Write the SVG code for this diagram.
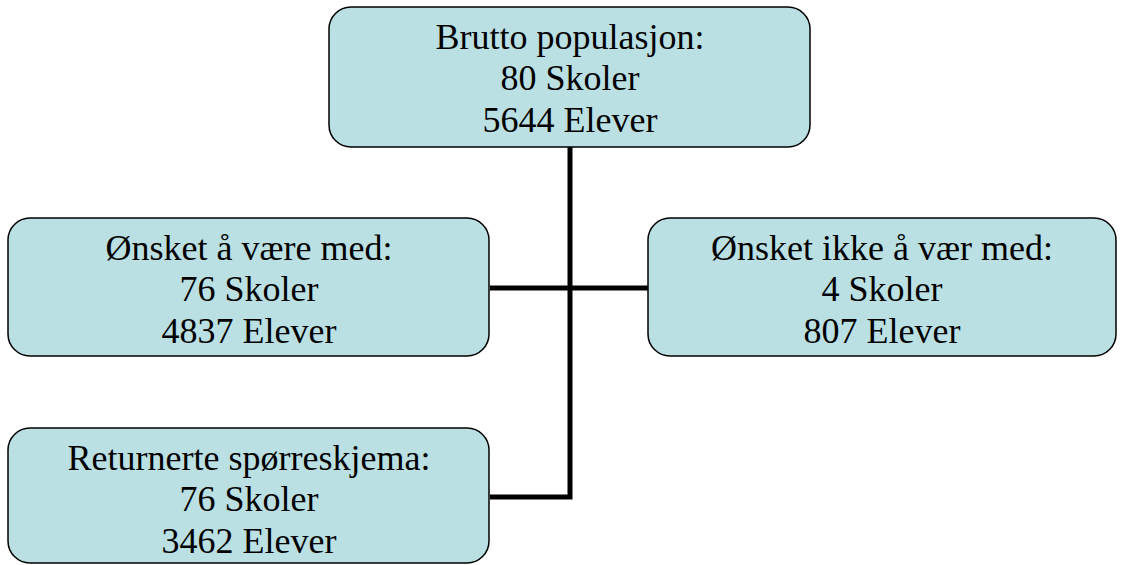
<svg xmlns="http://www.w3.org/2000/svg" width="1124" height="565" viewBox="0 0 1124 565">
<style>
.box{fill:#BBE0E3;stroke:#000;stroke-width:1.5}
.t{font-family:"Liberation Serif","Times New Roman",serif;font-size:36px;fill:#000;text-anchor:middle}
.c{fill:none;stroke:#000;stroke-width:5;stroke-linejoin:miter}
</style>
<rect width="1124" height="565" fill="#fff"/>
<g id="connectors">
<path class="c" d="M570,147 V497 H490"/>
<path class="c" d="M490,288 H648"/>
</g>
<g id="top">
<rect class="box" x="329" y="7" width="481" height="140" rx="22"/>
<text class="t" x="570" y="48.5">Brutto populasjon:</text>
<text class="t" x="570" y="90">80 Skoler</text>
<text class="t" x="570" y="131.5">5644 Elever</text>
</g>
<g id="left">
<rect class="box" x="8" y="218" width="481" height="138" rx="22"/>
<text class="t" x="249" y="259.5">Ønsket å være med:</text>
<text class="t" x="249" y="301">76 Skoler</text>
<text class="t" x="249" y="342.5">4837 Elever</text>
</g>
<g id="right">
<rect class="box" x="648" y="218" width="468" height="138" rx="22"/>
<text class="t" x="882" y="259.5">Ønsket ikke å vær med:</text>
<text class="t" x="882" y="301">4 Skoler</text>
<text class="t" x="882" y="342.5">807 Elever</text>
</g>
<g id="bottom">
<rect class="box" x="8" y="428" width="481" height="135" rx="22"/>
<text class="t" x="249" y="469.5">Returnerte spørreskjema:</text>
<text class="t" x="249" y="511">76 Skoler</text>
<text class="t" x="249" y="552.5">3462 Elever</text>
</g>
</svg>
